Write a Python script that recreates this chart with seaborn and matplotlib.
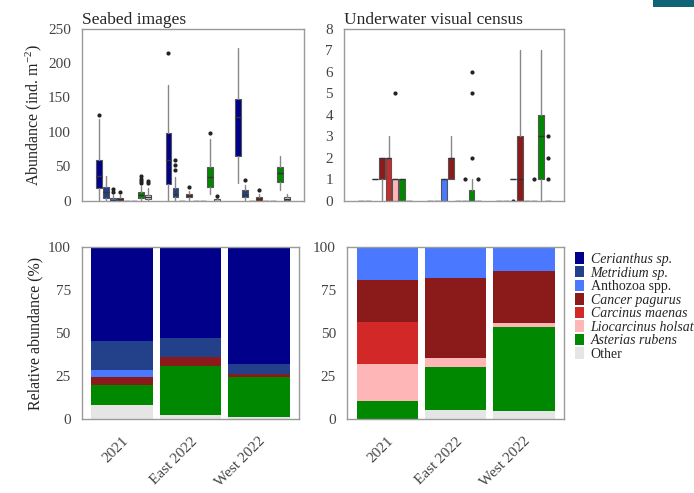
import numpy as np
import matplotlib
matplotlib.use("Agg")
import matplotlib.pyplot as plt
import seaborn as sns
from matplotlib.patches import Patch, Rectangle

species = ["Cerianthus sp.", "Metridium sp.", "Anthozoa spp.", "Cancer pagurus",
           "Carcinus maenas", "Liocarcinus holsatus", "Asterias rubens", "Other"]
italic = [True, True, False, True, True, True, True, False]
colors = ["#00008b", "#23408a", "#4a78ff", "#8b1a1a", "#d22828", "#ffb6b6", "#008800", "#e5e5e5"]
sites = ["2021", "East 2022", "West 2022"]

# box stats: one row per site, one entry per species
# (whisker low, q1, median, q3, whisker high)
seabed_box = [
    [(0, 18, 36, 59, 119), (0, 3.4, 12, 19.4, 36), (0, 0, 1.5, 4, 8), (0, 0, 2, 4.5, 8),
     (0, 0, 0, 0, 0), (0, 0, 0, 0, 0), (0, 3.5, 8, 12, 22), (0, 2, 5, 8, 19)],
    [(0, 24, 59, 99, 168), (0, 5, 10, 19, 34), (0, 0, 0, 0, 0), (0, 5, 7, 10, 14.5),
     (0, 0, 0, 0, 0), (0, 0, 0, 0, 0), (9.7, 19.4, 34, 49, 89), (0, 0, 0, 3, 5)],
    [(25, 65, 121, 148, 222), (0, 5, 8, 15.5, 23), (0, 0, 0, 0, 0), (0, 0, 2, 5, 10),
     (0, 0, 0, 0, 0), (0, 0, 0, 0, 0), (15.5, 27, 40, 48.5, 65), (0, 1, 2, 5, 10)],
]
seabed_fliers = [
    [[124], [], [13, 17], [12], [], [], [26, 29, 32, 36], [25, 29]],
    [[214], [44, 52, 59], [], [19.5], [], [], [99], [7]],
    [[], [30], [], [15.5], [], [], [], []],
]
uvc_box = [
    [(0, 0, 0, 0, 0), (0, 0, 0, 0, 0), (1, 1, 1, 1, 1), (0, 1, 2, 2, 2),
     (0, 0, 2, 2, 3), (0, 0, 1, 1, 1), (0, 0, 1, 1, 1), (0, 0, 0, 0, 0)],
    [(0, 0, 0, 0, 0), (0, 0, 0, 0, 0), (0, 0, 1, 1, 1), (1, 1, 2, 2, 3),
     (0, 0, 0, 0, 0), (0, 0, 0, 0, 0), (0, 0, 0, 0.5, 1), (0, 0, 0, 0, 0)],
    [(0, 0, 0, 0, 0), (0, 0, 0, 0, 0), (1, 1, 1, 1, 1), (0, 0, 1, 3, 7),
     (0, 0, 0, 0, 0), (0, 0, 0, 0, 0), (0, 1, 3, 4, 7), (0, 0, 0, 0, 0)],
]
uvc_fliers = [
    [[], [], [], [], [], [5], [], []],
    [[], [], [], [], [], [1], [2, 5, 6], [1]],
    [[], [], [0], [], [], [1], [], [1, 2, 3]],
]

# relative abundance (%) per site, species order as above
seabed_pct = [
    [54.3, 16.8, 4.1, 4.8, 0, 0, 11.7, 8.3],
    [52.7, 11.1, 0, 5.0, 0, 0, 28.9, 2.3],
    [67.8, 5.6, 0, 2.2, 0, 0, 22.8, 1.6],
]
uvc_pct = [
    [0, 0, 19.0, 24.2, 24.4, 21.5, 10.9, 0],
    [0, 0, 17.8, 46.3, 0, 5.5, 25.0, 5.4],
    [0, 0, 13.6, 30.2, 0, 2.7, 48.7, 4.8],
]

sns.set_style("white")
plt.rcParams['font.family'] = ['Liberation Serif', 'DejaVu Serif']
plt.rcParams['mathtext.fontset'] = 'custom'
plt.rcParams['mathtext.rm'] = 'Liberation Serif'
plt.rcParams['mathtext.it'] = 'Liberation Serif:italic'

grey = "#9a9a9a"
tick_col = "#444444"

fig = plt.figure(figsize=(6.94, 4.93), dpi=100)
ax_tl = fig.add_axes([0.118, 0.593, 0.320, 0.349])
ax_tr = fig.add_axes([0.496, 0.593, 0.317, 0.349])
ax_bl = fig.add_axes([0.118, 0.1495, 0.313, 0.3485])
ax_br = fig.add_axes([0.500, 0.1495, 0.313, 0.3485])


def draw_boxes(ax, box, fliers):
    for g in range(len(sites)):
        for i in range(len(species)):
            lo, q1, med, q3, hi = box[g][i]
            st = dict(whislo=lo, q1=q1, med=med, q3=q3, whishi=hi, fliers=fliers[g][i])
            pos = g + (i - 3.5) * 0.1
            ax.bxp([st], positions=[pos], widths=0.085, patch_artist=True, showcaps=False,
                   boxprops=dict(facecolor=colors[i], edgecolor="#555555", linewidth=0.8),
                   medianprops=dict(color="#333333", linewidth=1),
                   whiskerprops=dict(color="#888888", linewidth=1),
                   flierprops=dict(marker="o", markersize=2, markerfacecolor="#222222",
                                   markeredgecolor="#222222"),
                   manage_ticks=False)


def style(ax):
    for s in ax.spines.values():
        s.set_color(grey)
        s.set_linewidth(1)
    ax.tick_params(axis="y", length=7, width=1, color=grey, labelsize=11, labelcolor=tick_col, pad=1)
    ax.tick_params(axis="x", length=9, width=1, color=grey, labelsize=11, labelcolor=tick_col, pad=2)
    ax.set_xlim(-0.59, 2.59)


draw_boxes(ax_tl, seabed_box, seabed_fliers)
draw_boxes(ax_tr, uvc_box, uvc_fliers)
for ax in (ax_tl, ax_tr):
    style(ax)
    ax.set_xticks(range(3))
    ax.set_xticklabels([])
ax_tl.set_ylim(0, 250)
ax_tl.set_yticks([0, 50, 100, 150, 200, 250])
ax_tr.set_ylim(0, 8)
ax_tr.set_yticks(range(9))
ax_tl.set_ylabel("Abundance (ind. m$^{-2}$)", fontsize=11.5, color="#222222", labelpad=3)
ax_tl.set_title("Seabed images", loc="left", fontsize=12.5, pad=3)
ax_tr.set_title("Underwater visual census", loc="left", fontsize=12.5, pad=3)


def draw_stack(ax, pct):
    pct = np.array(pct)
    # stack from "Other" at the bottom up to Cerianthus at the top
    cum = np.cumsum(pct[:, ::-1], axis=1)[:, ::-1]
    for i in range(len(species)):
        sns.barplot(x=sites, y=cum[:, i], color=colors[i], width=0.9, saturation=1,
                    errorbar=None, linewidth=0, ax=ax)


draw_stack(ax_bl, seabed_pct)
draw_stack(ax_br, uvc_pct)
for ax in (ax_bl, ax_br):
    style(ax)
    ax.set_ylim(0, 100)
    ax.set_yticks([0, 25, 50, 75, 100])
    ax.set_xticks(range(3))
    ax.set_xticklabels(sites, rotation=45, ha="right", rotation_mode="anchor")
    ax.set_ylabel("")
ax_bl.set_ylabel("Relative abundance (%)", fontsize=11.5, color="#222222", labelpad=3)

handles = [Patch(facecolor=c, edgecolor="none") for c in colors]
leg = fig.legend(handles, species, loc="upper left", bbox_to_anchor=(0.828, 0.488),
                 frameon=False, fontsize=10, labelspacing=0.0, handlelength=0.7,
                 handleheight=0.9, handletextpad=0.45, borderaxespad=0, borderpad=0)
for t, it in zip(leg.get_texts(), italic):
    if it:
        t.set_fontstyle("italic")

fig.patches.append(Rectangle((0.941, 0.985), 0.06, 0.02, transform=fig.transFigure,
                             facecolor="#0f6577", edgecolor="none"))

fig.savefig("out.png", dpi=100)
